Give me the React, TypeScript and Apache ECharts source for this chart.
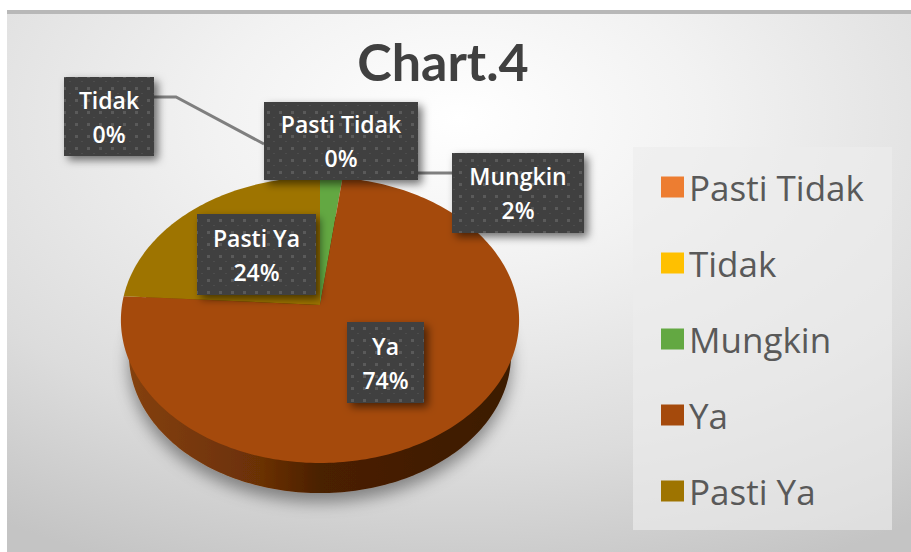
import React, { useEffect, useRef } from "react";
import * as echarts from "echarts";

const categories = ["Pasti Tidak", "Tidak", "Mungkin", "Ya", "Pasti Ya"];
const percentValues = [0, 0, 2, 74, 24];
const sliceColors = ["#ed7d31", "#ffc000", "#63a842", "#a54a0c", "#9e7400"];
const chartTitle = "Chart.4";

// layout of the callout boxes [left, top, right, bottom], by category
const labelBoxes = [
  [264, 102, 418, 180],
  [64, 77, 154, 156],
  [452, 153, 584, 233],
  [347, 322, 424, 403],
  [197, 214, 316, 295],
];

const FONT = '"Open Sans", "Noto Sans", sans-serif';
const TOP_FACE = { x0: 320, y0: 305, a: 198, b: 141.4, k: 0.105 };
const BOTTOM_FACE = { x0: 320, y0: 340, a: 190, b: 137, k: 0.105 };

function project(p: typeof TOP_FACE, pct: number) {
  const t = (pct / 100) * Math.PI * 2;
  const u = Math.sin(t);
  const v = Math.cos(t);
  const d = 1 + p.k * v;
  return [p.x0 + (p.a * u) / d, p.y0 - (p.b * v) / d];
}

function sectorPoints(p: typeof TOP_FACE, start: number, size: number) {
  const pts: number[][] = [[p.x0, p.y0]];
  const steps = Math.max(1, Math.ceil(size * 3));
  for (let i = 0; i <= steps; i++) pts.push(project(p, start + (size * i) / steps));
  return pts;
}

function makeDots() {
  const c = document.createElement("canvas");
  c.width = 12;
  c.height = 12;
  const g = c.getContext("2d")!;
  g.fillStyle = "#404040";
  g.fillRect(0, 0, 12, 12);
  g.fillStyle = "#5a5a5a";
  g.fillRect(3, 3, 3, 3);
  g.fillStyle = "#4e4e4e";
  g.fillRect(9, 9, 2, 1);
  return c;
}

export default function App() {
  const ref = useRef<HTMLDivElement>(null);

  useEffect(() => {
    document.body.style.margin = "0";
    const chart = echarts.init(ref.current!, undefined, { renderer: "svg" });
    const dots = makeDots();
    const starts = percentValues.map((_, i) =>
      percentValues.slice(0, i).reduce((a, b) => a + b, 0)
    );

    const wallGradient = new echarts.graphic.LinearGradient(0, 0, 1, 0, [
      { offset: 0, color: "#84400c" },
      { offset: 0.35, color: "#6a3006" },
      { offset: 0.5, color: "#4a2000" },
      { offset: 1, color: "#3c1b00" },
    ]);

    const wallSeries = categories.map((name, i) => ({
      type: "custom",
      coordinateSystem: "none",
      silent: true,
      z: 2,
      data: [[starts[i], percentValues[i]]],
      renderItem: (_p: any, api: any) => {
        const size = api.value(1);
        if (!size) return null;
        return {
          type: "polygon",
          shape: { points: sectorPoints(BOTTOM_FACE, api.value(0), size) },
          style: {
            fill: wallGradient,
            shadowBlur: 16,
            shadowColor: "rgba(0,0,0,0.4)",
            shadowOffsetY: 9,
          },
        };
      },
    }));

    const faceSeries = categories.map((name, i) => ({
      name,
      type: "custom",
      coordinateSystem: "none",
      silent: true,
      z: 3,
      itemStyle: { color: sliceColors[i] },
      data: [[starts[i], percentValues[i]]],
      renderItem: (_p: any, api: any) => {
        const size = api.value(1);
        if (!size) return null;
        return {
          type: "polygon",
          shape: { points: sectorPoints(TOP_FACE, api.value(0), size) },
          style: { fill: sliceColors[i] },
        };
      },
    }));

    const labelSeries = {
      type: "custom",
      coordinateSystem: "none",
      silent: true,
      z: 5,
      data: categories.map((_, i) => [i, percentValues[i]]),
      renderItem: (_p: any, api: any) => {
        const i = api.value(0);
        const [l, t, r, b] = labelBoxes[i];
        const cx = (l + r) / 2;
        const cy = (t + b) / 2;
        const font = `600 23px ${FONT}`;
        return {
          type: "group",
          children: [
            {
              type: "rect",
              shape: { x: l, y: t, width: r - l, height: b - t },
              style: {
                fill: { image: dots, repeat: "repeat" },
                shadowBlur: 9,
                shadowColor: "rgba(0,0,0,0.55)",
                shadowOffsetX: 4,
                shadowOffsetY: 4,
              },
            },
            {
              type: "text",
              style: {
                text: categories[i],
                x: cx,
                y: cy - 17,
                fill: "#ffffff",
                font,
                textAlign: "center",
                textVerticalAlign: "middle",
              },
            },
            {
              type: "text",
              style: {
                text: `${api.value(1)}%`,
                x: cx,
                y: cy + 17,
                fill: "#ffffff",
                font,
                textAlign: "center",
                textVerticalAlign: "middle",
              },
            },
          ],
        };
      },
    };

    chart.setOption({
      animation: false,
      title: {
        text: chartTitle,
        left: 438,
        top: 30,
        textAlign: "center",
        textStyle: { color: "#404040", fontFamily: "Lato, sans-serif", fontSize: 52, fontWeight: 700 },
      },
      legend: {
        data: categories,
        orient: "vertical",
        left: 656,
        top: 163,
        icon: "rect",
        itemWidth: 23,
        itemHeight: 21,
        itemGap: 38,
        selectedMode: false,
        textStyle: {
          color: "#595959",
          fontFamily: FONT,
          fontSize: 35,
          lineHeight: 38,
        },
      },
      graphic: [
        {
          type: "rect",
          z: -20,
          shape: { x: 7, y: 10, width: 904, height: 542 },
          style: {
            fill: new echarts.graphic.RadialGradient(0.5, 0.2, 0.9, [
              { offset: 0, color: "#ffffff" },
              { offset: 0.3, color: "#f2f2f2" },
              { offset: 0.7, color: "#dcdcdc" },
              { offset: 1, color: "#c4c4c4" },
            ]),
          },
        },
        {
          type: "rect",
          z: -19,
          shape: { x: 7, y: 10, width: 904, height: 4 },
          style: { fill: "#b8b8b8" },
        },
        {
          type: "rect",
          z: -18,
          shape: { x: 633, y: 147, width: 259, height: 383 },
          style: { fill: "rgba(236,236,236,0.65)" },
        },
        {
          type: "polyline",
          z: -10,
          shape: { points: [[154, 97], [176, 97], [264, 144]] },
          style: { stroke: "#7f7f7f", lineWidth: 3, fill: "none" },
        },
        {
          type: "line",
          z: -10,
          shape: { x1: 418, y1: 173, x2: 452, y2: 173 },
          style: { stroke: "#7f7f7f", lineWidth: 3 },
        },
      ],
      series: [...wallSeries, ...faceSeries, labelSeries],
    });
    return () => chart.dispose();
  }, []);

  return <div ref={ref} style={{ width: 911, height: 552 }} />;
}
